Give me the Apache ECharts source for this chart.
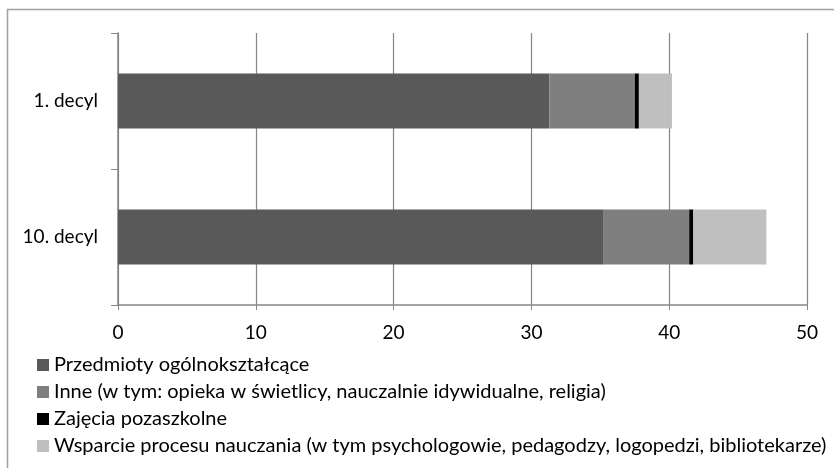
<!DOCTYPE html>
<html>
<head>
<meta charset="utf-8">
<script src="https://cdn.jsdelivr.net/npm/echarts@6/dist/echarts.min.js"></script>
<style>
  html, body { margin: 0; padding: 0; background: #fff; }
  #chart { width: 834px; height: 468px; }
</style>
</head>
<body>
<div id="chart"></div>
<script>
// Hours per category, stacked by kind of activity
const categories = ['1. decyl', '10. decyl'];
const seriesNames = [
  'Przedmioty ogólnokształcące',
  'Inne (w tym: opieka w świetlicy, nauczalnie idywidualne, religia)',
  'Zajęcia pozaszkolne',
  'Wsparcie procesu nauczania (w tym psychologowie, pedagodzy, logopedzi, bibliotekarze)'
];
const przedmioty = [31.3, 35.25];
const inne = [6.2, 6.2];
const pozaszkolne = [0.3, 0.3];
const wsparcie = [2.4, 5.3];
const xTicks = [0, 10, 20, 30, 40, 50];

const colors = ['#595959', '#7f7f7f', '#000000', '#bfbfbf'];
const values = [przedmioty, inne, pozaszkolne, wsparcie];
const FONT = 'Lato';

const chart = echarts.init(document.getElementById('chart'), null, { renderer: 'canvas' });
chart.setOption({
  animation: false,
  textStyle: { fontFamily: FONT },
  graphic: [{
    type: 'rect',
    shape: { x: 7.5, y: 9.5, width: 840, height: 470 },
    style: { fill: 'none', stroke: '#a0a0a0', lineWidth: 1.5 },
    silent: true
  }],
  grid: { left: 118, right: 27, top: 33, bottom: 163, containLabel: false },
  xAxis: {
    type: 'value',
    min: xTicks[0],
    max: xTicks[xTicks.length - 1],
    interval: 10,
    axisLine: { show: true, lineStyle: { color: '#868686', width: 1.5 } },
    axisTick: { show: true, length: 5, lineStyle: { color: '#868686' } },
    splitLine: { show: true, lineStyle: { color: '#868686', width: 1.2 } },
    axisLabel: { color: '#000', fontSize: 19, margin: 18, fontFamily: FONT }
  },
  yAxis: {
    type: 'category',
    data: categories,
    inverse: true,
    axisLine: { show: true, lineStyle: { color: '#868686', width: 1.5 } },
    axisTick: { show: true, length: 7, lineStyle: { color: '#868686' } },
    axisLabel: { color: '#000', fontSize: 19, margin: 20, fontFamily: FONT }
  },
  legend: {
    orient: 'vertical',
    left: 37,
    top: 355,
    padding: 0,
    itemGap: 7,
    itemWidth: 12,
    itemHeight: 12,
    icon: 'rect',
    textStyle: { color: '#000', fontSize: 20, lineHeight: 20, fontFamily: FONT },
    data: seriesNames
  },
  series: seriesNames.map((name, i) => ({
    name: name,
    type: 'bar',
    stack: 'total',
    barWidth: 55,
    data: values[i],
    itemStyle: { color: colors[i] }
  }))
});
</script>
</body>
</html>
